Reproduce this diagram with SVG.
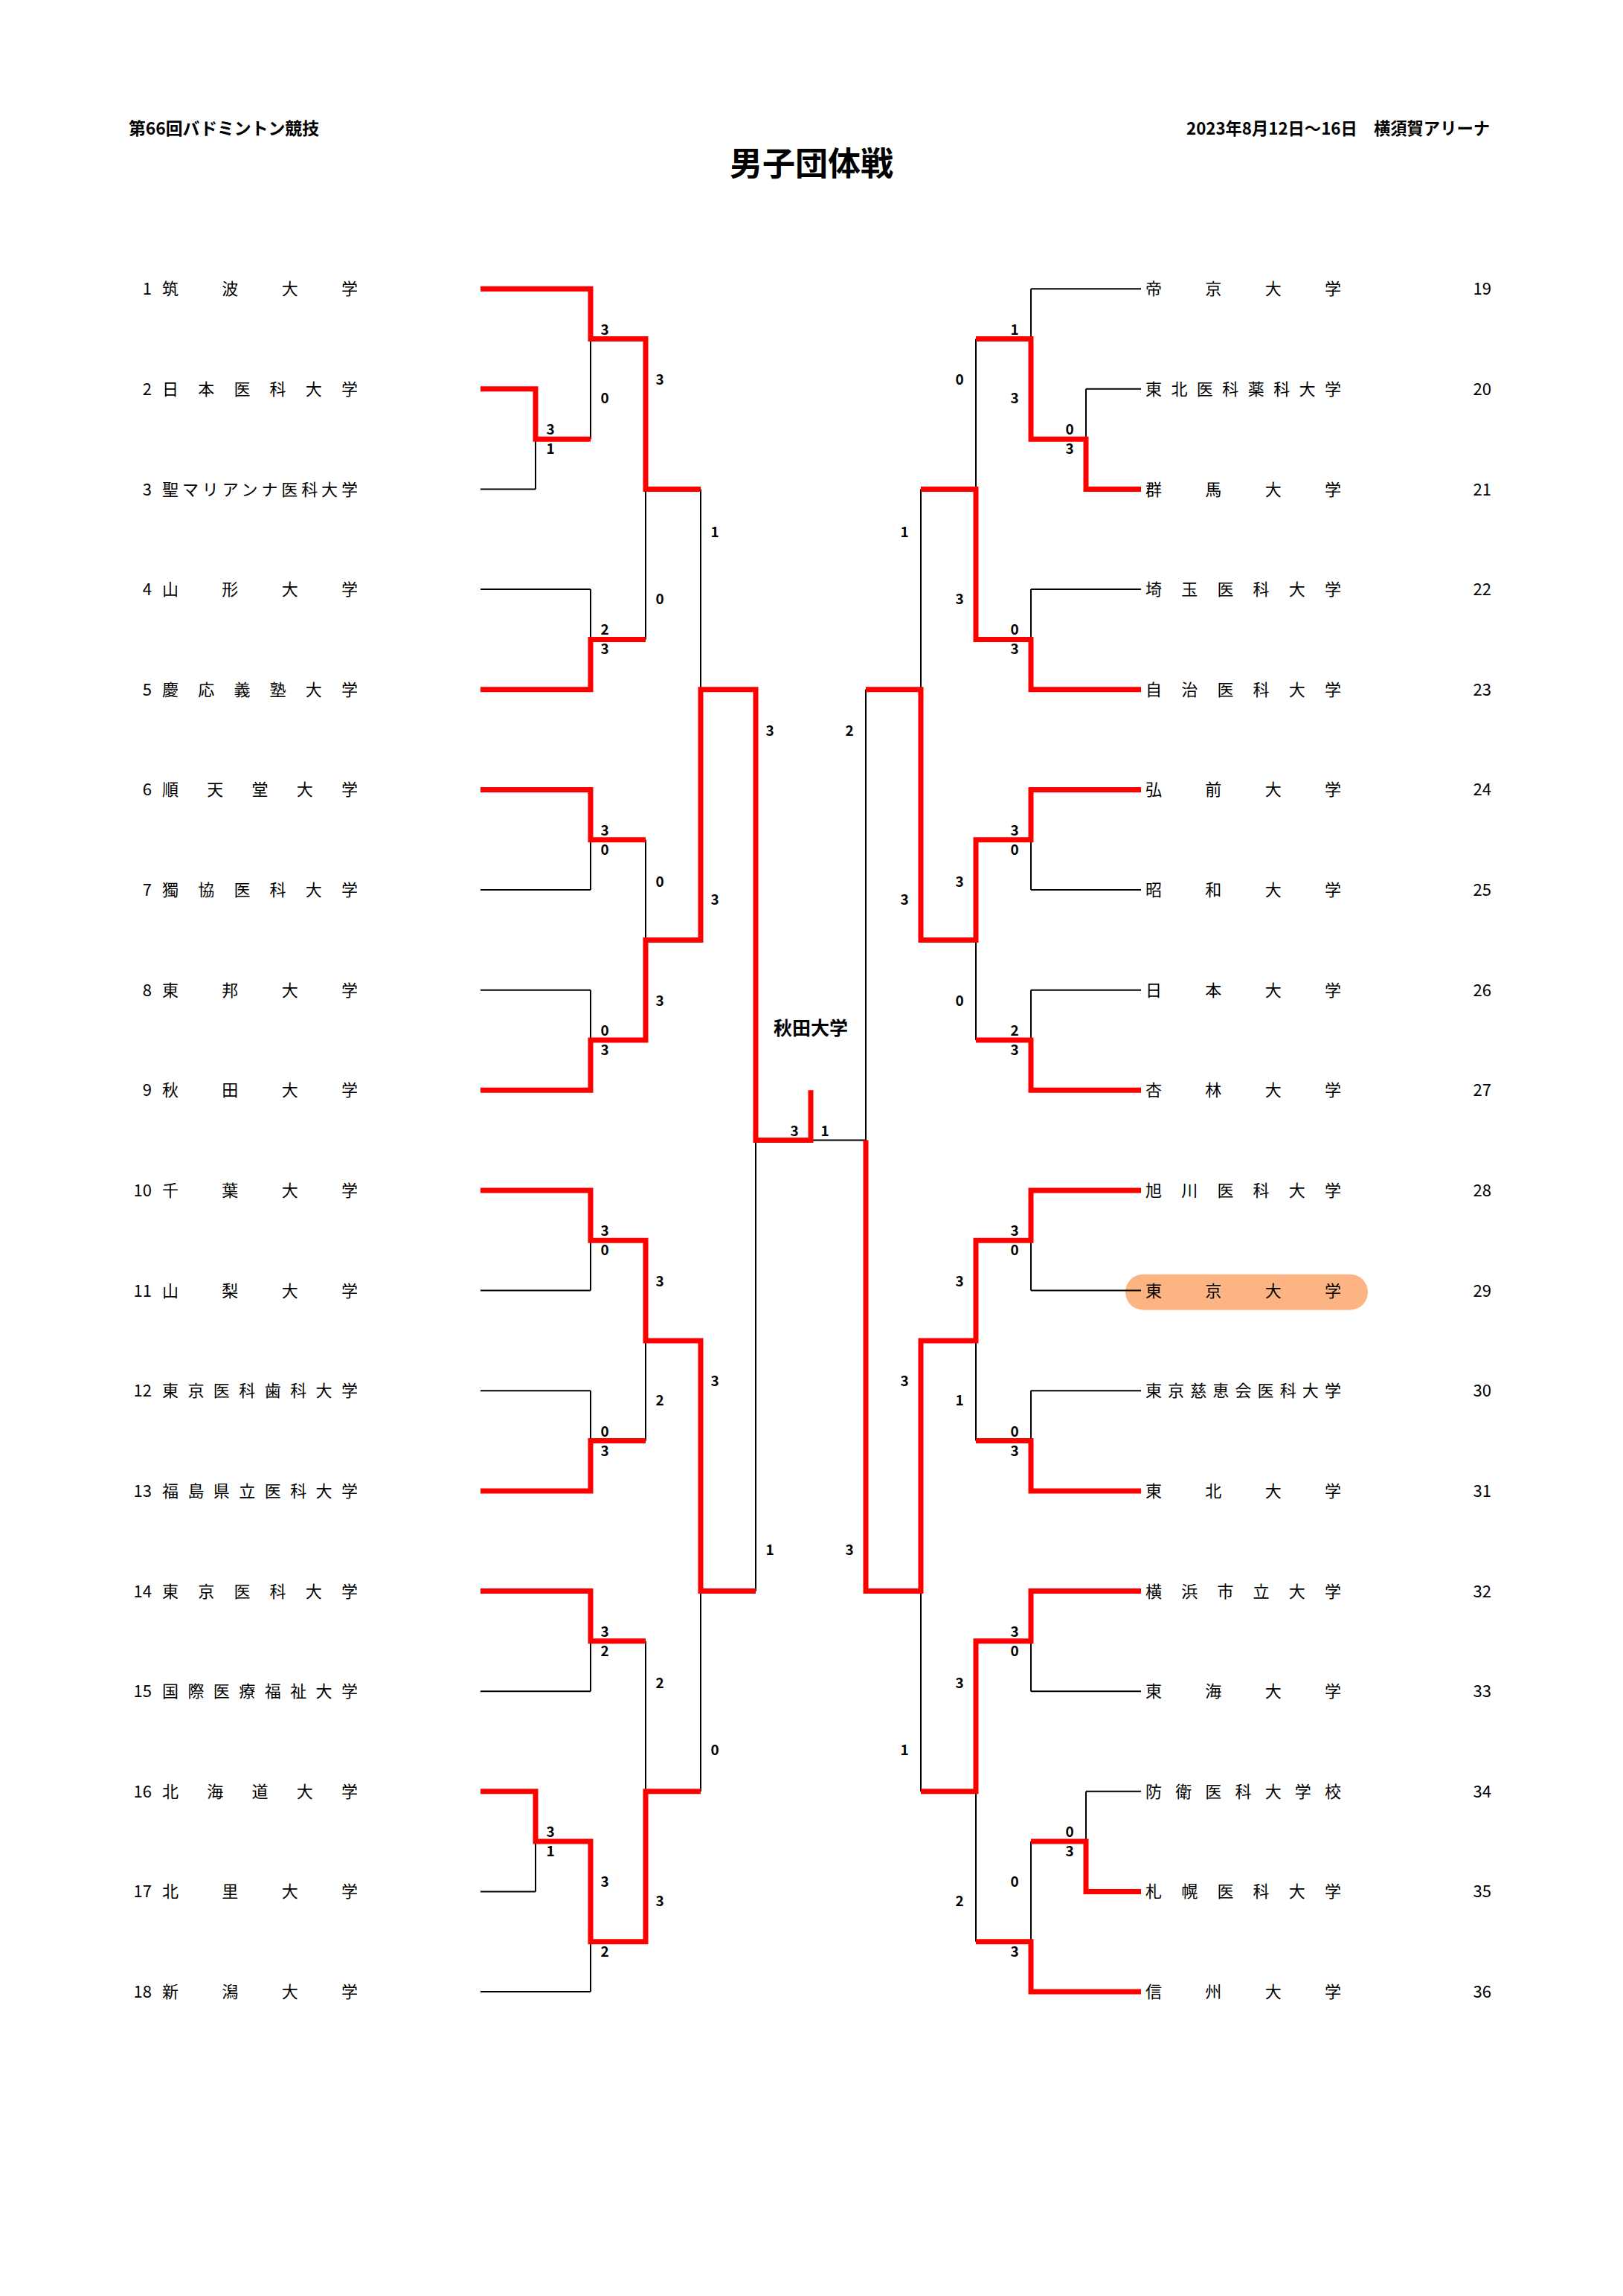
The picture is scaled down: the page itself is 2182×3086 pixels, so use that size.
<svg xmlns="http://www.w3.org/2000/svg" xmlns:xlink="http://www.w3.org/1999/xlink" width="2182" height="3086" viewBox="0 0 2182 3086">
<style>
text{font-family:"Noto Sans CJK JP","Liberation Sans",sans-serif;fill:#000}
.hd{font-size:23px;font-weight:bold}
.ttl{font-size:44px;font-weight:bold;text-anchor:middle}
.ch{font-size:25px;font-weight:bold;text-anchor:middle}
.nm{font-size:22px}
.nl{font-size:22px;text-anchor:end}
.sc{font-size:19px;font-weight:bold;text-anchor:middle}
.bk{fill:none;stroke:#000;stroke-width:2}
.rd{fill:none;stroke:#FF0000;stroke-width:7;stroke-linejoin:miter;stroke-linecap:butt}
</style>
<defs>
<path id="half" class="bk" d="M646 388.2H794M646 522.8H720M646 657.5H720M646 792.1H794M646 926.8H794M646 1061.4H794M646 1196H794M646 1330.7H794M646 1465.3H794M646 1600H794M646 1734.6H794M646 1869.2H794M646 2003.9H794M646 2138.5H794M646 2273.2H794M646 2407.8H720M646 2542.4H720M646 2677.1H794M720 522.8V657.5M720 2407.8V2542.4M720 590.2H794M720 2475.1H794M794 388.2V590.2M794 792.1V926.8M794 1061.4V1196M794 1330.7V1465.3M794 1600V1734.6M794 1869.2V2003.9M794 2138.5V2273.2M794 2475.1V2677.1M794 455.5H868M794 859.4H868M794 1128.7H868M794 1398H868M794 1667.3H868M794 1936.6H868M794 2205.8H868M794 2609.8H868M868 455.5V859.4M868 1128.7V1398M868 1667.3V1936.6M868 2205.8V2609.8M868 657.5H942M868 1263.4H942M868 1801.9H942M868 2407.8H942M942 657.5V1263.4M942 1801.9V2407.8M942 926.8H1016M942 2138.5H1016M1016 926.8V2138.5M1016 1532.6H1090"/>
</defs>
<rect width="2182" height="3086" fill="#fff"/>
<g id="header">
<text class="hd" x="173" y="181" textLength="256" lengthAdjust="spacingAndGlyphs">第66回バドミントン競技</text>
<text class="hd" x="1595" y="181" textLength="408" lengthAdjust="spacingAndGlyphs">2023年8月12日～16日　横須賀アリーナ</text>
<text class="ttl" x="1091" y="236">男子団体戦</text>
</g>
<g id="highlight-29"><rect x="1513" y="1712.7" width="326" height="48" rx="24" ry="24" fill="#FBB482"/></g>
<g id="connectors">
<use xlink:href="#half"/>
<use xlink:href="#half" transform="matrix(-1 0 0 1 2180 0)"/>
<path class="rd" d="M646 388.2H794V455.5H868V657.5H942"/>
<path class="rd" d="M646 522.8H720V590.2H794"/>
<path class="rd" d="M646 926.8H794V859.4H868"/>
<path class="rd" d="M646 1061.4H794V1128.7H868"/>
<path class="rd" d="M646 1465.3H794V1398H868V1263.4H942V926.8H1016V1532.6H1090V1465.3"/>
<path class="rd" d="M646 1600H794V1667.3H868V1801.9H942V2138.5H1016"/>
<path class="rd" d="M646 2003.9H794V1936.6H868"/>
<path class="rd" d="M646 2138.5H794V2205.8H868"/>
<path class="rd" d="M646 2407.8H720V2475.1H794V2609.8H868V2407.8H942"/>
<path class="rd" d="M1534 657.5H1460V590.2H1386V455.5H1312"/>
<path class="rd" d="M1534 926.8H1386V859.4H1312V657.5H1238"/>
<path class="rd" d="M1534 1061.4H1386V1128.7H1312V1263.4H1238V926.8H1164"/>
<path class="rd" d="M1534 1465.3H1386V1398H1312"/>
<path class="rd" d="M1534 1600H1386V1667.3H1312V1801.9H1238V2138.5H1164V1532.6"/>
<path class="rd" d="M1534 2003.9H1386V1936.6H1312"/>
<path class="rd" d="M1534 2138.5H1386V2205.8H1312V2407.8H1238"/>
<path class="rd" d="M1534 2542.4H1460V2475.1H1386"/>
<path class="rd" d="M1534 2677.1H1386V2609.8H1312"/>
</g>
<g id="scores">
<text class="sc" x="813" y="449.5">3</text><text class="sc" x="813" y="542.4">0</text>
<text class="sc" x="740" y="584.2">3</text><text class="sc" x="740" y="610.2">1</text>
<text class="sc" x="813" y="853.4">2</text><text class="sc" x="813" y="879.4">3</text>
<text class="sc" x="887" y="516.8">3</text><text class="sc" x="887" y="812">0</text>
<text class="sc" x="813" y="1122.7">3</text><text class="sc" x="813" y="1148.7">0</text>
<text class="sc" x="813" y="1392">0</text><text class="sc" x="813" y="1418">3</text>
<text class="sc" x="887" y="1192">0</text><text class="sc" x="887" y="1351.5">3</text>
<text class="sc" x="961" y="721.6">1</text><text class="sc" x="961" y="1215.7">3</text>
<text class="sc" x="813" y="1661.3">3</text><text class="sc" x="813" y="1687.3">0</text>
<text class="sc" x="813" y="1930.6">0</text><text class="sc" x="813" y="1956.6">3</text>
<text class="sc" x="887" y="1729.4">3</text><text class="sc" x="887" y="1888.9">2</text>
<text class="sc" x="813" y="2199.8">3</text><text class="sc" x="813" y="2225.8">2</text>
<text class="sc" x="740" y="2469.1">3</text><text class="sc" x="740" y="2495.1">1</text>
<text class="sc" x="813" y="2536.3">3</text><text class="sc" x="813" y="2629.8">2</text>
<text class="sc" x="887" y="2268.8">2</text><text class="sc" x="887" y="2562">3</text>
<text class="sc" x="961" y="1863.3">3</text><text class="sc" x="961" y="2359.4">0</text>
<text class="sc" x="1035" y="989.3">3</text><text class="sc" x="1035" y="2089.7">1</text>
<text class="sc" x="1068" y="1527">3</text><text class="sc" x="1109" y="1527">1</text>
<text class="sc" x="1142" y="989.3">2</text><text class="sc" x="1142" y="2089.7">3</text>
<text class="sc" x="1364" y="449.5">1</text><text class="sc" x="1364" y="542.4">3</text>
<text class="sc" x="1438" y="584.2">0</text><text class="sc" x="1438" y="610.2">3</text>
<text class="sc" x="1290" y="516.8">0</text><text class="sc" x="1290" y="812">3</text>
<text class="sc" x="1364" y="853.4">0</text><text class="sc" x="1364" y="879.4">3</text>
<text class="sc" x="1216" y="721.6">1</text><text class="sc" x="1216" y="1215.7">3</text>
<text class="sc" x="1364" y="1122.7">3</text><text class="sc" x="1364" y="1148.7">0</text>
<text class="sc" x="1364" y="1392">2</text><text class="sc" x="1364" y="1418">3</text>
<text class="sc" x="1290" y="1192">3</text><text class="sc" x="1290" y="1351.5">0</text>
<text class="sc" x="1364" y="1661.3">3</text><text class="sc" x="1364" y="1687.3">0</text>
<text class="sc" x="1364" y="1930.6">0</text><text class="sc" x="1364" y="1956.6">3</text>
<text class="sc" x="1290" y="1729.4">3</text><text class="sc" x="1290" y="1888.9">1</text>
<text class="sc" x="1364" y="2199.8">3</text><text class="sc" x="1364" y="2225.8">0</text>
<text class="sc" x="1438" y="2469.1">0</text><text class="sc" x="1438" y="2495.1">3</text>
<text class="sc" x="1364" y="2536.3">0</text><text class="sc" x="1364" y="2629.8">3</text>
<text class="sc" x="1290" y="2268.8">3</text><text class="sc" x="1290" y="2562">2</text>
<text class="sc" x="1216" y="1863.3">3</text><text class="sc" x="1216" y="2359.4">1</text>
</g>
<g id="champion"><text class="ch" x="1090" y="1391">秋田大学</text></g>
<g id="team-01"><text class="nl" x="204" y="396.2">1</text><text class="nm" x="218" y="396.2" textLength="263" lengthAdjust="spacing">筑波大学</text></g>
<g id="team-02"><text class="nl" x="204" y="530.8">2</text><text class="nm" x="218" y="530.8" textLength="263" lengthAdjust="spacing">日本医科大学</text></g>
<g id="team-03"><text class="nl" x="204" y="665.5">3</text><text class="nm" x="218" y="665.5" textLength="263" lengthAdjust="spacing">聖マリアンナ医科大学</text></g>
<g id="team-04"><text class="nl" x="204" y="800.1">4</text><text class="nm" x="218" y="800.1" textLength="263" lengthAdjust="spacing">山形大学</text></g>
<g id="team-05"><text class="nl" x="204" y="934.8">5</text><text class="nm" x="218" y="934.8" textLength="263" lengthAdjust="spacing">慶応義塾大学</text></g>
<g id="team-06"><text class="nl" x="204" y="1069.4">6</text><text class="nm" x="218" y="1069.4" textLength="263" lengthAdjust="spacing">順天堂大学</text></g>
<g id="team-07"><text class="nl" x="204" y="1204">7</text><text class="nm" x="218" y="1204" textLength="263" lengthAdjust="spacing">獨協医科大学</text></g>
<g id="team-08"><text class="nl" x="204" y="1338.7">8</text><text class="nm" x="218" y="1338.7" textLength="263" lengthAdjust="spacing">東邦大学</text></g>
<g id="team-09"><text class="nl" x="204" y="1473.3">9</text><text class="nm" x="218" y="1473.3" textLength="263" lengthAdjust="spacing">秋田大学</text></g>
<g id="team-10"><text class="nl" x="204" y="1608">10</text><text class="nm" x="218" y="1608" textLength="263" lengthAdjust="spacing">千葉大学</text></g>
<g id="team-11"><text class="nl" x="204" y="1742.6">11</text><text class="nm" x="218" y="1742.6" textLength="263" lengthAdjust="spacing">山梨大学</text></g>
<g id="team-12"><text class="nl" x="204" y="1877.2">12</text><text class="nm" x="218" y="1877.2" textLength="263" lengthAdjust="spacing">東京医科歯科大学</text></g>
<g id="team-13"><text class="nl" x="204" y="2011.9">13</text><text class="nm" x="218" y="2011.9" textLength="263" lengthAdjust="spacing">福島県立医科大学</text></g>
<g id="team-14"><text class="nl" x="204" y="2146.5">14</text><text class="nm" x="218" y="2146.5" textLength="263" lengthAdjust="spacing">東京医科大学</text></g>
<g id="team-15"><text class="nl" x="204" y="2281.2">15</text><text class="nm" x="218" y="2281.2" textLength="263" lengthAdjust="spacing">国際医療福祉大学</text></g>
<g id="team-16"><text class="nl" x="204" y="2415.8">16</text><text class="nm" x="218" y="2415.8" textLength="263" lengthAdjust="spacing">北海道大学</text></g>
<g id="team-17"><text class="nl" x="204" y="2550.4">17</text><text class="nm" x="218" y="2550.4" textLength="263" lengthAdjust="spacing">北里大学</text></g>
<g id="team-18"><text class="nl" x="204" y="2685.1">18</text><text class="nm" x="218" y="2685.1" textLength="263" lengthAdjust="spacing">新潟大学</text></g>
<g id="team-19"><text class="nm" x="1540" y="396.2" textLength="263" lengthAdjust="spacing">帝京大学</text><text class="nl" x="2005" y="396.2">19</text></g>
<g id="team-20"><text class="nm" x="1540" y="530.8" textLength="263" lengthAdjust="spacing">東北医科薬科大学</text><text class="nl" x="2005" y="530.8">20</text></g>
<g id="team-21"><text class="nm" x="1540" y="665.5" textLength="263" lengthAdjust="spacing">群馬大学</text><text class="nl" x="2005" y="665.5">21</text></g>
<g id="team-22"><text class="nm" x="1540" y="800.1" textLength="263" lengthAdjust="spacing">埼玉医科大学</text><text class="nl" x="2005" y="800.1">22</text></g>
<g id="team-23"><text class="nm" x="1540" y="934.8" textLength="263" lengthAdjust="spacing">自治医科大学</text><text class="nl" x="2005" y="934.8">23</text></g>
<g id="team-24"><text class="nm" x="1540" y="1069.4" textLength="263" lengthAdjust="spacing">弘前大学</text><text class="nl" x="2005" y="1069.4">24</text></g>
<g id="team-25"><text class="nm" x="1540" y="1204" textLength="263" lengthAdjust="spacing">昭和大学</text><text class="nl" x="2005" y="1204">25</text></g>
<g id="team-26"><text class="nm" x="1540" y="1338.7" textLength="263" lengthAdjust="spacing">日本大学</text><text class="nl" x="2005" y="1338.7">26</text></g>
<g id="team-27"><text class="nm" x="1540" y="1473.3" textLength="263" lengthAdjust="spacing">杏林大学</text><text class="nl" x="2005" y="1473.3">27</text></g>
<g id="team-28"><text class="nm" x="1540" y="1608" textLength="263" lengthAdjust="spacing">旭川医科大学</text><text class="nl" x="2005" y="1608">28</text></g>
<g id="team-29"><text class="nm" x="1540" y="1742.6" textLength="263" lengthAdjust="spacing">東京大学</text><text class="nl" x="2005" y="1742.6">29</text></g>
<g id="team-30"><text class="nm" x="1540" y="1877.2" textLength="263" lengthAdjust="spacing">東京慈恵会医科大学</text><text class="nl" x="2005" y="1877.2">30</text></g>
<g id="team-31"><text class="nm" x="1540" y="2011.9" textLength="263" lengthAdjust="spacing">東北大学</text><text class="nl" x="2005" y="2011.9">31</text></g>
<g id="team-32"><text class="nm" x="1540" y="2146.5" textLength="263" lengthAdjust="spacing">横浜市立大学</text><text class="nl" x="2005" y="2146.5">32</text></g>
<g id="team-33"><text class="nm" x="1540" y="2281.2" textLength="263" lengthAdjust="spacing">東海大学</text><text class="nl" x="2005" y="2281.2">33</text></g>
<g id="team-34"><text class="nm" x="1540" y="2415.8" textLength="263" lengthAdjust="spacing">防衛医科大学校</text><text class="nl" x="2005" y="2415.8">34</text></g>
<g id="team-35"><text class="nm" x="1540" y="2550.4" textLength="263" lengthAdjust="spacing">札幌医科大学</text><text class="nl" x="2005" y="2550.4">35</text></g>
<g id="team-36"><text class="nm" x="1540" y="2685.1" textLength="263" lengthAdjust="spacing">信州大学</text><text class="nl" x="2005" y="2685.1">36</text></g>
</svg>
